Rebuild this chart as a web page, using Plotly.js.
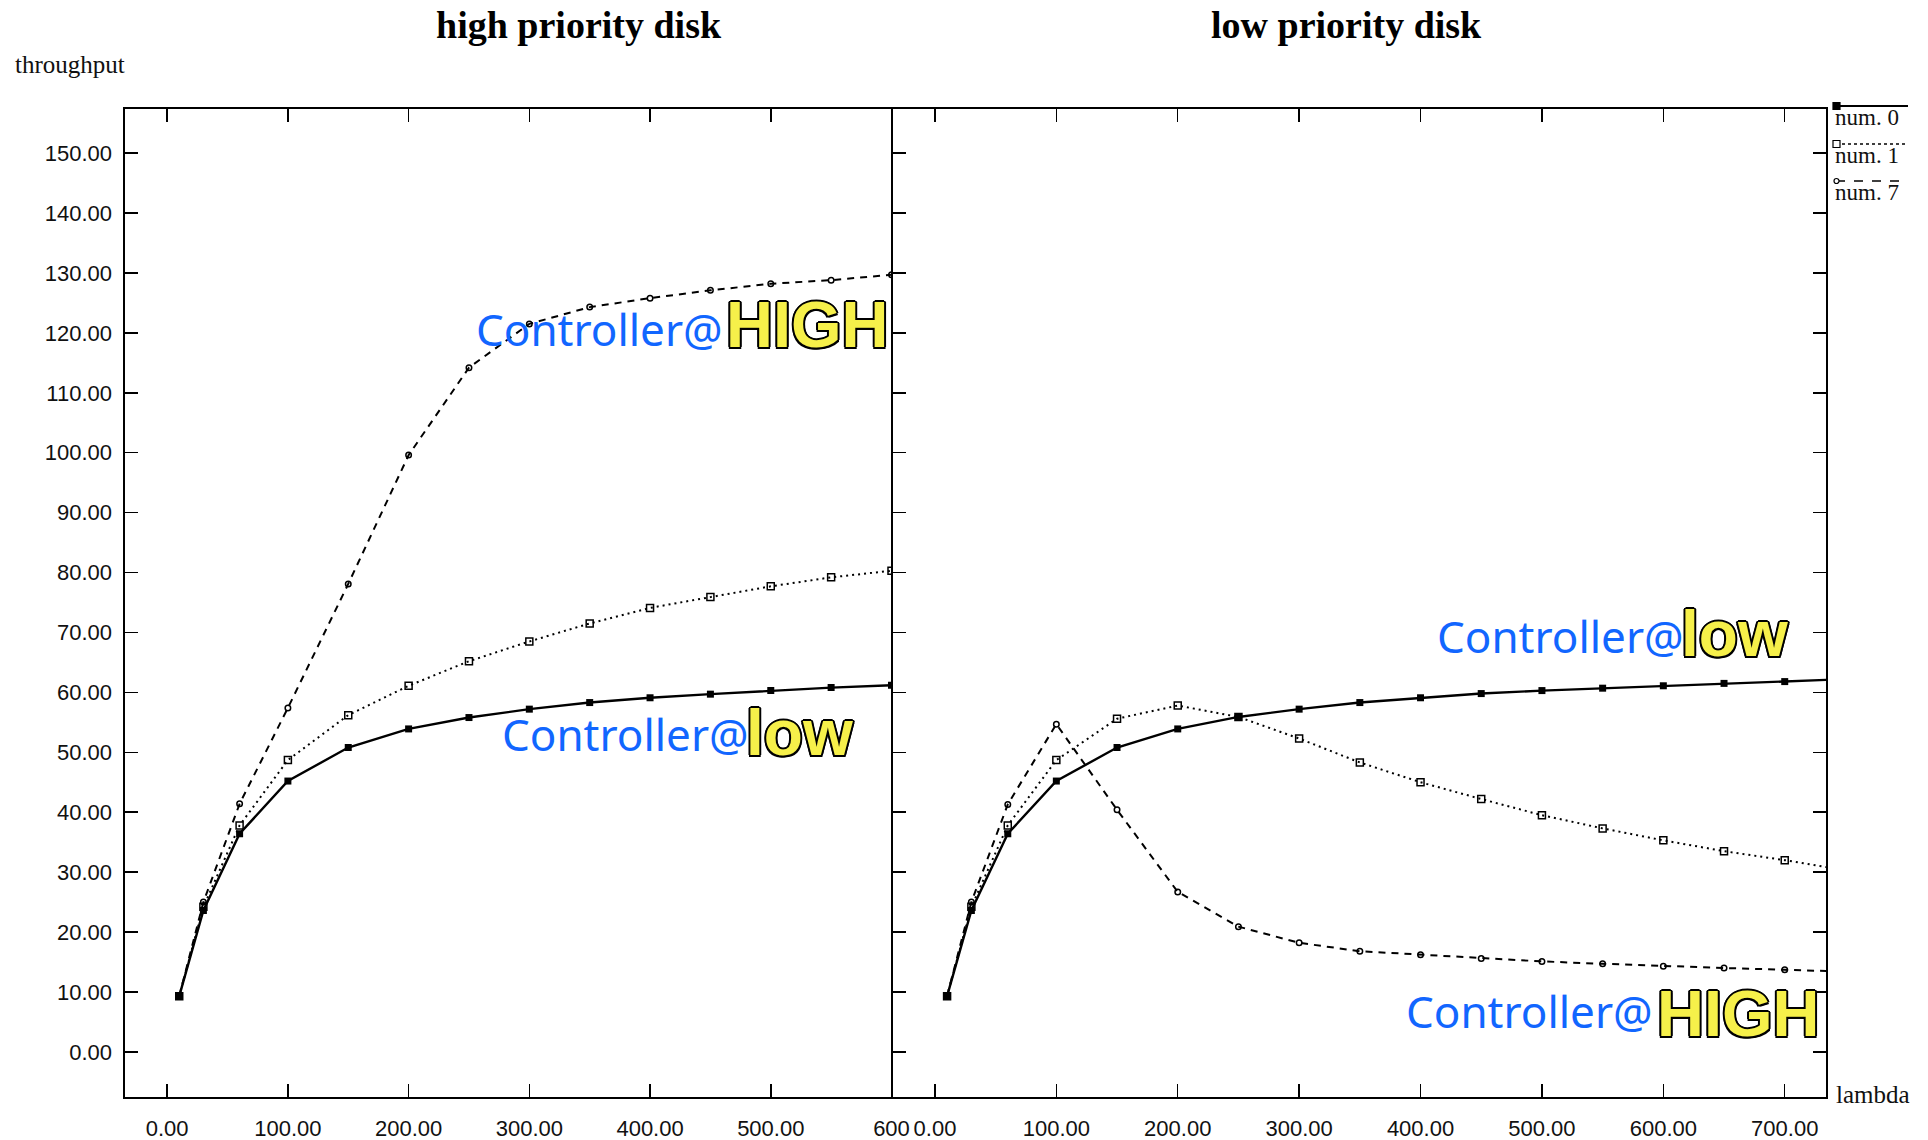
<!DOCTYPE html>
<html>
<head>
<meta charset="utf-8">
<script src="https://cdn.plot.ly/plotly-3.0.1.min.js"></script>
<style>
  html, body { margin: 0; padding: 0; background: #ffffff; }
  #chart { width: 1928px; height: 1140px; }
</style>
</head>
<body>
<div id="chart"></div>
<script>
// ---- data ----
const lambdaHigh = [10, 30, 60, 100, 150, 200, 250, 300, 350, 400, 450, 500, 550, 600];
const highNum0 = [9.3, 23.6, 36.4, 45.2, 50.8, 53.9, 55.8, 57.2, 58.3, 59.1, 59.7, 60.3, 60.8, 61.2];
const highNum1 = [9.3, 24.2, 37.8, 48.7, 56.2, 61.1, 65.2, 68.5, 71.5, 74.1, 75.9, 77.7, 79.2, 80.3];
const highNum7 = [9.3, 25.0, 41.4, 57.4, 78.1, 99.6, 114.2, 121.5, 124.3, 125.8, 127.1, 128.2, 128.8, 129.7];

const lambdaLow = [10, 30, 60, 100, 150, 200, 250, 300, 350, 400, 450, 500, 550, 600, 650, 700, 750];
const lowNum0 = [9.3, 23.6, 36.4, 45.2, 50.8, 53.9, 55.9, 57.2, 58.3, 59.1, 59.8, 60.3, 60.7, 61.1, 61.5, 61.8, 62.2];
const lowNum1 = [9.3, 24.2, 37.8, 48.7, 55.6, 57.8, 55.9, 52.3, 48.3, 45.0, 42.2, 39.5, 37.3, 35.3, 33.5, 32.0, 30.3];
const lowNum7 = [9.3, 25.0, 41.3, 54.7, 40.4, 26.7, 20.9, 18.2, 16.8, 16.2, 15.6, 15.1, 14.7, 14.3, 14.0, 13.7, 13.4];

const seriesNames = ["num. 0", "num. 1", "num. 7"];
const panelTitles = ["high priority disk", "low priority disk"];
const yTitle = "throughput";
const xTitle = "lambda";

const xTickValsHigh = [0, 100, 200, 300, 400, 500, 600];
const xTickTextHigh = ["0.00", "100.00", "200.00", "300.00", "400.00", "500.00", "600"];
const xTickValsLow = [0, 100, 200, 300, 400, 500, 600, 700];
const xTickTextLow = ["0.00", "100.00", "200.00", "300.00", "400.00", "500.00", "600.00", "700.00"];

// ---- styling ----
const W = 1928, H = 1140;
const px = v => v / W;
const py = v => 1 - v / H;

const tickFont = {family: "'Liberation Sans Narrow', 'Arial Narrow', 'Liberation Sans', sans-serif", size: 22, color: "#111"};
const serif = "'Liberation Serif', 'Times New Roman', serif";
const blueFont = {family: "'Comic Sans MS', 'Noto Sans', sans-serif", size: 44, color: "#1166ff"};
const outline = "2px 0 0 #000, -2px 0 0 #000, 0 2px 0 #000, 0 -2px 0 #000, 1.5px 1.5px 0 #000, -1.5px -1.5px 0 #000, 1.5px -1.5px 0 #000, -1.5px 1.5px 0 #000";
const bigFont = sz => ({family: "'Liberation Sans Narrow', 'Arial Narrow', 'Liberation Sans', sans-serif", size: sz, color: "#f6f04a", weight: 700, shadow: outline});

const styles = [
  {line: {color: "#000", width: 2.4, dash: "solid"}, marker: {symbol: "square", size: 7, color: "#000"}},
  {line: {color: "#000", width: 2, dash: "2px,4px"}, marker: {symbol: "square-open", size: 7, color: "#000", line: {width: 1.5}}},
  {line: {color: "#000", width: 2, dash: "7px,6px"}, marker: {symbol: "circle-open", size: 5.5, color: "#000", line: {width: 1.5}}}
];

function trace(x, y, i, xa, ya) {
  return {
    x: x, y: y, type: "scatter", mode: "lines+markers", name: seriesNames[i],
    xaxis: xa, yaxis: ya, showlegend: false,
    line: styles[i].line, marker: styles[i].marker, hoverinfo: "x+y"
  };
}

const data = [
  trace(lambdaHigh, highNum0, 0, "x", "y"),
  trace(lambdaHigh, highNum1, 1, "x", "y"),
  trace(lambdaHigh, highNum7, 2, "x", "y"),
  trace(lambdaLow, lowNum0, 0, "x2", "y2"),
  trace(lambdaLow, lowNum1, 1, "x2", "y2"),
  trace(lambdaLow, lowNum7, 2, "x2", "y2")
];

const yRange = [-7.5, 157.3];
const yTicks = [0, 10, 20, 30, 40, 50, 60, 70, 80, 90, 100, 110, 120, 130, 140, 150];

const axisCommon = {
  showgrid: false, zeroline: false, showline: true, linecolor: "#000", linewidth: 2,
  ticks: "inside", ticklen: 13, tickwidth: 1.5, tickcolor: "#000", tickfont: tickFont
};

const domTop = py(109.4), domBottom = py(1096.8);

const layout = {
  width: W, height: H,
  margin: {l: 0, r: 0, t: 0, b: 0},
  paper_bgcolor: "#fff", plot_bgcolor: "#fff",
  showlegend: false,
  xaxis: Object.assign({}, axisCommon, {
    domain: [px(125.4), px(892.7)], range: [-34.6, 601], anchor: "y",
    mirror: "ticks", tickmode: "array", tickvals: xTickValsHigh, ticktext: xTickTextHigh,
    ticklabelstandoff: 11
  }),
  yaxis: Object.assign({}, axisCommon, {
    domain: [domBottom, domTop], range: yRange, anchor: "x",
    mirror: false, tickmode: "array", tickvals: yTicks, tickformat: ".2f",
    ticklabelstandoff: 7
  }),
  xaxis2: Object.assign({}, axisCommon, {
    domain: [px(892.7), px(1826)], range: [-34.8, 734], anchor: "y2",
    mirror: "ticks", tickmode: "array", tickvals: xTickValsLow, ticktext: xTickTextLow,
    ticklabelstandoff: 11
  }),
  yaxis2: Object.assign({}, axisCommon, {
    domain: [domBottom, domTop], range: yRange, anchor: "x2",
    mirror: "ticks", tickmode: "array", tickvals: yTicks, showticklabels: false
  }),
  annotations: [],
  shapes: []
};

const ann = layout.annotations;
function addText(text, x, y, font, xanchor) {
  ann.push({text: text, xref: "paper", yref: "paper", x: px(x), y: py(y),
    xanchor: xanchor || "left", yanchor: "middle", showarrow: false, font: font});
}

// panel titles and axis titles
addText("<b>" + panelTitles[0] + "</b>", 579, 25, {family: serif, size: 38, color: "#000"}, "center");
addText("<b>" + panelTitles[1] + "</b>", 1346, 25, {family: serif, size: 38, color: "#000"}, "center");
addText(yTitle, 13, 65, {family: serif, size: 25, color: "#111"});
addText(xTitle, 1834, 1094, {family: serif, size: 25, color: "#111"});

// callouts
addText("Controller@", 474, 329, blueFont);
addText("HIGH", 724, 324, bigFont(65));
addText("Controller@", 500, 734, blueFont);
addText("low", 744, 733, bigFont(64));
addText("Controller@", 1435, 636, blueFont);
addText("low", 1679, 634, bigFont(64));
addText("Controller@", 1404, 1011, blueFont);
addText("HIGH", 1655, 1013, bigFont(65));

// custom legend (line sample above the label)
const legendRows = [106, 144, 181];
const legendDash = ["solid", "dot", "dash"];
legendRows.forEach((ly, i) => {
  layout.shapes.push({type: "line", xref: "paper", yref: "paper",
    x0: px(1836), x1: px(1908), y0: py(ly), y1: py(ly),
    line: {color: "#000", width: i === 0 ? 2 : 1.5, dash: legendDash[i]}});
  if (i === 2) {
    layout.shapes.push({type: "circle", xref: "paper", yref: "paper",
      x0: px(1834), x1: px(1839), y0: py(ly - 2.5), y1: py(ly + 2.5),
      line: {color: "#000", width: 1.2}, fillcolor: "#fff"});
  } else {
    layout.shapes.push({type: "rect", xref: "paper", yref: "paper",
      x0: px(1833), x1: px(1840), y0: py(ly - 3.5), y1: py(ly + 3.5),
      line: {color: "#000", width: 1.2}, fillcolor: i === 0 ? "#000" : "#fff"});
  }
  addText(seriesNames[i], 1833, ly + 12, {family: serif, size: 23, color: "#111"});
});

Plotly.newPlot("chart", data, layout, {displayModeBar: false, staticPlot: true});
</script>
</body>
</html>
